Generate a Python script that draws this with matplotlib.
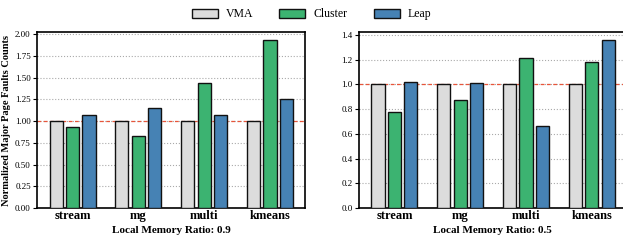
import matplotlib
matplotlib.use('Agg')
import matplotlib.pyplot as plt
import numpy as np

plt.rcParams['font.family'] = ['Liberation Serif', 'DejaVu Serif']

workloads = ['stream', 'mg', 'multi', 'kmeans']
series = ['VMA', 'Cluster', 'Leap']
colors = ['#dcdcdc', '#3cb371', '#4682b4']

vals_09 = {
    'VMA': [1.0, 1.0, 1.0, 1.0],
    'Cluster': [0.93, 0.83, 1.44, 1.93],
    'Leap': [1.07, 1.15, 1.07, 1.25],
}
vals_05 = {
    'VMA': [1.0, 1.0, 1.0, 1.0],
    'Cluster': [0.78, 0.87, 1.21, 1.18],
    'Leap': [1.02, 1.01, 0.66, 1.355],
}

fig = plt.figure(figsize=(6.23, 2.41), dpi=100)
ax1 = fig.add_axes([0.0594, 0.137, 0.430, 0.730])
ax2 = fig.add_axes([0.576, 0.137, 0.430, 0.730])

x = np.arange(len(workloads))
w = 0.2
step = 0.25


def draw(ax, vals, xlabel, yticks, fmt):
    handles = []
    for i, s in enumerate(series):
        b = ax.bar(x + (i - 1) * step, vals[s], w, color=colors[i],
                   edgecolor='#111111', linewidth=1.0, label=s, zorder=3)
        handles.append(b)
    ymax = max(max(v) for v in vals.values()) * 1.05
    ax.set_ylim(0, ymax)
    ax.set_xlim(-0.54, 3.53)
    ax.axhline(1.0, color='#e8553a', linestyle=(0, (3, 2)), linewidth=0.9, zorder=2)
    ax.set_yticks(yticks)
    ax.set_yticklabels([fmt.format(t) for t in yticks], fontsize=6.5)
    ax.yaxis.grid(True, linestyle=':', color='#aaaaaa', linewidth=0.8, zorder=0)
    ax.set_axisbelow(True)
    ax.set_xticks(x)
    ax.set_xticklabels(workloads, fontsize=9, fontweight='bold')
    ax.tick_params(axis='x', length=0, pad=1.5)
    ax.tick_params(axis='y', direction='out', length=3, width=0.8, pad=1.5)
    ax.set_xlabel(xlabel, fontsize=8, fontweight='bold', labelpad=3)
    for sp in ax.spines.values():
        sp.set_linewidth(1.2)
    return handles


h = draw(ax1, vals_09, 'Local Memory Ratio: 0.9',
         [0, 0.25, 0.5, 0.75, 1.0, 1.25, 1.5, 1.75, 2.0], '{:.2f}')
draw(ax2, vals_05, 'Local Memory Ratio: 0.5',
     [0, 0.2, 0.4, 0.6, 0.8, 1.0, 1.2, 1.4], '{:.1f}')
ax1.set_ylabel('Normalized Major Page Faults Counts', fontsize=7.5, fontweight='bold', labelpad=3)

fig.legend(h, series, loc='center', bbox_to_anchor=(0.5, 0.94), ncol=3,
           frameon=False, fontsize=8.5, handlelength=2.2, handleheight=0.8,
           columnspacing=2.2, handletextpad=0.7)

fig.savefig('out.png', dpi=100)
